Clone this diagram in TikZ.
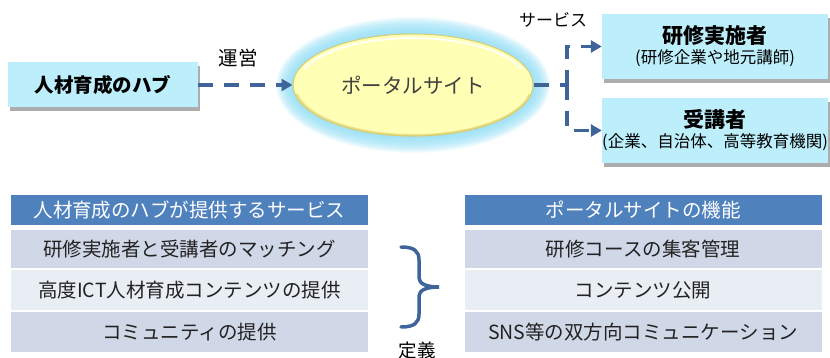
\documentclass[tikz,border=0pt]{standalone}
\usepackage{fontspec}
\setmainfont{Noto Sans CJK JP}
\usetikzlibrary{shadows,arrows.meta,shapes.geometric}
\definecolor{boxc}{HTML}{BDEEFC}
\definecolor{arrc}{HTML}{3E6499}
\definecolor{hdrc}{HTML}{4F81BD}
\definecolor{rowd}{HTML}{D0D8E8}
\definecolor{rowl}{HTML}{E9EDF4}
\definecolor{glowc}{HTML}{8FDDF5}
\definecolor{ellc}{HTML}{FFFFB5}
\definecolor{ellrim}{HTML}{D9CC6E}
\definecolor{txtc}{HTML}{222222}
\begin{document}
\begin{tikzpicture}[x=1pt,y=-1pt,
  cbox/.style={fill=boxc, inner sep=0pt, align=center, text=black,
    drop shadow={shadow xshift=1.5pt, shadow yshift=-4pt, fill=black!40, opacity=0.8}},
  connline/.style={draw=arrc, line width=3.5pt, dash pattern=on 15pt off 11pt},
  conn/.style={connline, -{Triangle[length=11pt,width=12pt]}},
  hdr/.style={fill=hdrc, text=white, minimum width=357pt, minimum height=30pt, inner sep=0pt,
    font=\fontsize{19.5}{21}\selectfont},
  rowdk/.style={fill=rowd, text=txtc, minimum width=357pt, minimum height=38pt, inner sep=0pt,
    font=\fontsize{19.5}{21}\selectfont},
  rowlt/.style={fill=rowl, text=txtc, minimum width=357pt, minimum height=40pt, inner sep=0pt,
    font=\fontsize{19.5}{21}\selectfont},
  lbl/.style={text=black, inner sep=0pt}
]
\useasboundingbox (0,0) rectangle (830,358);

% glow around the portal ellipse
\foreach \i in {17,16,...,1}
  \fill[glowc, opacity=0.10] (413,85) ellipse ({120+\i} and {51+\i});

% hub box
\node[cbox, minimum width=190pt, minimum height=45pt, font=\fontsize{19.5}{21}\selectfont\bfseries]
  (hub) at (103,85) {人材育成のハブ};

% portal ellipse
\node[ellipse, minimum width=240pt, minimum height=102pt, fill=ellc, draw=ellrim, line width=1pt,
  inner sep=0pt, text=black!75, font=\fontsize{20.5}{22}\selectfont] (portal) at (413,85) {ポータルサイト};
\draw[ellrim, line width=2.5pt, opacity=0.6] (413,85) ++(117,9) arc[start angle=10, end angle=170, x radius=118.5, y radius=50];
\draw[white, line width=1.8pt, opacity=0.9] (413,85) ++(-109,-16) arc[start angle=200, end angle=340, x radius=116, y radius=47];

% right boxes
\node[cbox, minimum width=226pt, minimum height=65pt] (inst) at (715,46.5)
  {{\fontsize{21}{23}\selectfont\bfseries 研修実施者}\\[3pt]{\fontsize{16.5}{18}\selectfont (研修企業や地元講師)}};
\node[cbox, minimum width=226pt, minimum height=65pt] (stud) at (715,130.5)
  {{\fontsize{21}{23}\selectfont\bfseries 受講者}\\[3pt]{\fontsize{16.5}{18}\selectfont (企業、自治体、高等教育機関)}};

% connectors
\draw[conn] (hub.east) -- (portal.west);
\coordinate (fork) at (567,85);
\draw[connline] (portal.east) -- (fork);
\draw[conn] (fork) |- (inst.west);
\draw[conn] (fork) |- (stud.west);

% labels
\node[lbl, font=\fontsize{19.5}{21}\selectfont] (lunei) at (238,58) {運営};
\node[lbl, font=\fontsize{17}{19}\selectfont] (lserv) at (553,20) {サービス};

% left table
\node[hdr] (lh) at (189.5,210) {人材育成のハブが提供するサービス};
\node[rowdk] (l1) at (189.5,249) {研修実施者と受講者のマッチング};
\node[rowlt] (l2) at (189.5,290) {高度ICT人材育成コンテンツの提供};
\node[rowlt, fill=rowd] (l3) at (189.5,332) {コミュニティの提供};

% right table
\node[hdr] (rh) at (643,210) {ポータルサイトの機能};
\node[rowdk] (r1) at (643,249) {研修コースの集客管理};
\node[rowlt] (r2) at (643,290) {コンテンツ公開};
\node[rowlt, fill=rowd] (r3) at (643,332) {SNS等の双方向コミュニケーション};

% brace
\draw[arrc, line width=3.5pt, line cap=round]
  (401,247) .. controls (414,247) and (419,251) .. (419,260) -- (419,278)
  .. controls (419,284) and (427,287) .. (439,287)
  .. controls (427,287) and (419,290) .. (419,296) -- (419,314)
  .. controls (419,323) and (414,327) .. (401,327);
\node[lbl, font=\fontsize{18.5}{20}\selectfont] (ldef) at (417,350) {定義};
\end{tikzpicture}
\end{document}
